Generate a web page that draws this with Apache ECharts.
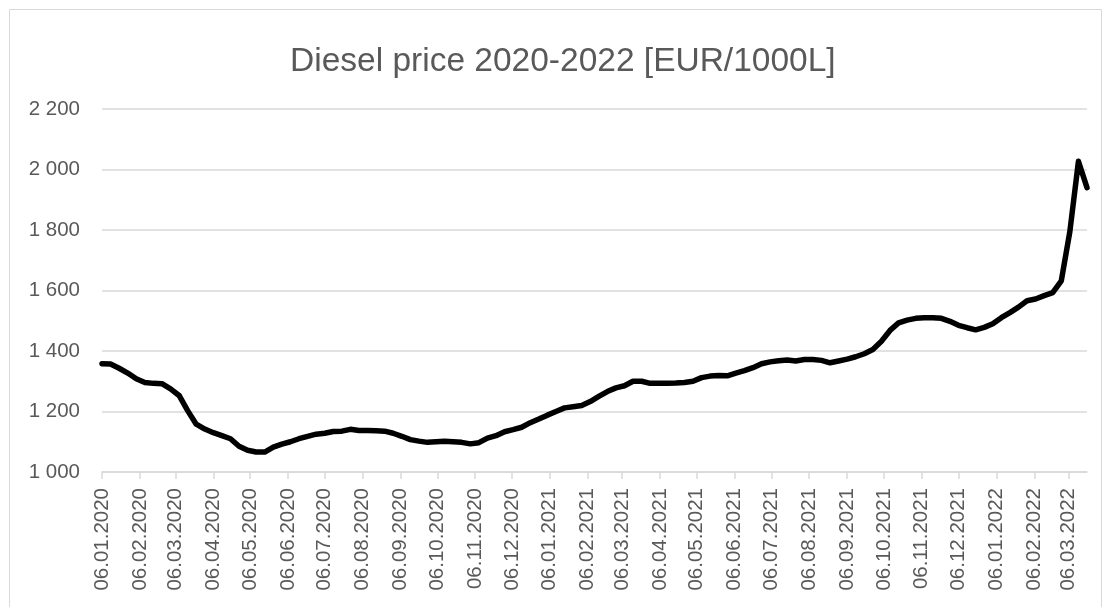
<!DOCTYPE html>
<html>
<head>
<meta charset="utf-8">
<script src="https://cdn.jsdelivr.net/npm/echarts@6/dist/echarts.min.js"></script>
<style>
html,body{margin:0;padding:0;background:#fff;}
#chart{width:1103px;height:607px;}
</style>
</head>
<body>
<div id="chart"></div>
<script>
// Weekly observations (Mondays), starting 06.01.2020
const firstWeek = [2020, 1, 6];
const dieselPrice = [
  1358, 1357, 1343, 1327, 1308, 1296, 1293, 1292, 1275, 1253,
  1203, 1158, 1142, 1130, 1120, 1110, 1085, 1072, 1066, 1066,
  1082, 1092, 1100, 1110, 1118, 1125, 1128, 1134, 1135, 1141,
  1137, 1137, 1136, 1135, 1128, 1118, 1107, 1102, 1098, 1100,
  1102, 1100, 1098, 1093, 1097, 1112, 1120, 1133, 1140, 1148,
  1163, 1175, 1188, 1200, 1212, 1216, 1220, 1233, 1250, 1266,
  1278, 1285, 1300, 1300, 1293, 1293, 1293, 1294, 1296, 1300,
  1312, 1317, 1319, 1318, 1327, 1335, 1345, 1358, 1364, 1368,
  1370, 1367, 1372, 1372, 1369, 1361, 1367, 1373, 1381, 1391,
  1405, 1432, 1468, 1493, 1502, 1508, 1510, 1510, 1508, 1498,
  1485, 1477, 1470, 1478, 1490, 1510, 1527, 1545, 1566, 1572,
  1583, 1593, 1632, 1795, 2027, 1940
];
const xTickLabels = [
  '06.01.2020','06.02.2020','06.03.2020','06.04.2020','06.05.2020','06.06.2020',
  '06.07.2020','06.08.2020','06.09.2020','06.10.2020','06.11.2020','06.12.2020',
  '06.01.2021','06.02.2021','06.03.2021','06.04.2021','06.05.2021','06.06.2021',
  '06.07.2021','06.08.2021','06.09.2021','06.10.2021','06.11.2021','06.12.2021',
  '06.01.2022','06.02.2022','06.03.2022'
];
const yTicks = [1000, 1200, 1400, 1600, 1800, 2000, 2200];
const titleText = 'Diesel price 2020-2022 [EUR/1000L]';

const DAY = 86400000;
function dayNum(y, m, d) { return Date.UTC(y, m - 1, d) / DAY; }
function parseDMY(s) {
  const p = s.split('.').map(Number);
  return dayNum(p[2], p[1], p[0]);
}
function pad(n) { return (n < 10 ? '0' : '') + n; }
function fmtDMY(dn) {
  const d = new Date(Math.round(dn) * DAY);
  return pad(d.getUTCDate()) + '.' + pad(d.getUTCMonth() + 1) + '.' + d.getUTCFullYear();
}
const startDay = dayNum(firstWeek[0], firstWeek[1], firstWeek[2]);
const seriesData = dieselPrice.map((v, i) => [startDay + 7 * i, v]);
const tickValues = xTickLabels.map(parseDMY);

const FONT = 'Liberation Sans, Arial, sans-serif';
const chart = echarts.init(document.getElementById('chart'));
chart.setOption({
  animation: false,
  backgroundColor: '#ffffff',
  graphic: [{
    type: 'rect',
    shape: { x: 9.5, y: 9.5, width: 1092, height: 620 },
    style: { fill: 'none', stroke: '#d9d9d9', lineWidth: 1 },
    silent: true
  }],
  title: {
    text: titleText,
    left: 285,
    top: 40,
    textStyle: {
      fontFamily: FONT,
      fontSize: 33.5,
      fontWeight: 'normal',
      color: '#595959'
    }
  },
  grid: { left: 102, right: 16, top: 109, bottom: 135, containLabel: false },
  xAxis: {
    type: 'value',
    min: seriesData[0][0],
    max: seriesData[seriesData.length - 1][0],
    axisLine: { show: true, lineStyle: { color: '#d9d9d9', width: 1.5 } },
    axisTick: { show: true, customValues: tickValues, length: 7, lineStyle: { color: '#d9d9d9', width: 1.5 } },
    splitLine: { show: false },
    axisLabel: {
      customValues: tickValues,
      rotate: 90,
      margin: 16,
      formatter: function (v) { return fmtDMY(v); },
      fontFamily: FONT,
      fontSize: 20.5,
      color: '#595959',
      hideOverlap: false
    }
  },
  yAxis: {
    type: 'value',
    min: yTicks[0],
    max: yTicks[yTicks.length - 1],
    interval: 200,
    axisLine: { show: false },
    axisTick: { show: false },
    splitLine: { show: true, lineStyle: { color: '#d9d9d9', width: 1.5 } },
    axisLabel: {
      margin: 22,
      fontFamily: FONT,
      fontSize: 20.5,
      color: '#595959',
      formatter: function (v) { return String(v).replace(/\B(?=(\d{3})+(?!\d))/g, ' '); }
    }
  },
  series: [{
    type: 'line',
    data: seriesData,
    showSymbol: false,
    symbol: 'none',
    smooth: false,
    lineStyle: { color: '#000000', width: 5.5, join: 'round', cap: 'round' }
  }]
});
</script>
</body>
</html>
